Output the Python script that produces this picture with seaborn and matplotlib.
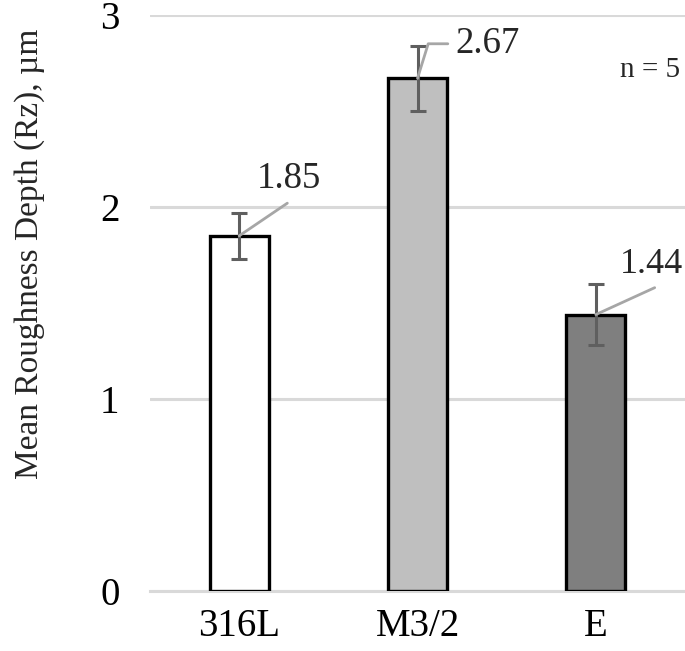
import matplotlib
matplotlib.use("Agg")
import matplotlib.pyplot as plt
import seaborn as sns
import pandas as pd

# data
alloys = ["316L", "M3/2", "E"]
rz_mean = [1.85, 2.67, 1.44]
rz_err = [0.12, 0.17, 0.16]
bar_colors = ["#ffffff", "#bfbfbf", "#7f7f7f"]

sns.set_theme(style="white")
plt.rcParams["font.family"] = ["Liberation Serif", "DejaVu Serif"]

df = pd.DataFrame({"alloy": alloys, "rz": rz_mean})

fig = plt.figure(figsize=(6.85, 6.51), dpi=100)
ax = fig.add_axes([0.219, 0.092, 0.781, 0.885])

sns.barplot(data=df, x="alloy", y="rz", hue="alloy", palette=bar_colors,
            legend=False, errorbar=None, width=0.33, edgecolor="black",
            linewidth=2.4, ax=ax, zorder=3)

ax.errorbar(range(len(alloys)), rz_mean, yerr=rz_err, fmt="none",
            ecolor="#5f5f5f", elinewidth=2.2, capsize=6, capthick=2.2, zorder=4)

# value labels with leader lines (callout offsets in data units)
LEAD = "#a6a6a6"
v = rz_mean
ax.plot([0, 0.27], [v[0], v[0] + 0.17], color=LEAD, lw=2, zorder=5)
ax.text(0.10, v[0] + 0.25, f"{v[0]:.2f}", fontsize=26.5, ha="left",
        va="baseline")

ax.plot([1, 1.06, 1.17], [v[1], v[1] + 0.18, v[1] + 0.18], color=LEAD, lw=2,
        zorder=5)
ax.text(1.21, v[1] + 0.18, f"{v[1]:.2f}", fontsize=26.5, ha="left",
        va="center")

ax.plot([2, 2.33], [v[2], v[2] + 0.14], color=LEAD, lw=2, zorder=5)
ax.text(2.135, v[2] + 0.216, f"{v[2]:.2f}", fontsize=26, ha="left",
        va="baseline")

ax.set_ylim(0, 3)
ax.set_xlim(-0.5, 2.5)
ax.set_yticks([0, 1, 2, 3])
ax.yaxis.grid(True, color="#d9d9d9", lw=2.2, zorder=0)
ax.set_axisbelow(True)
for s in ["top", "right", "left"]:
    ax.spines[s].set_visible(False)
ax.spines["bottom"].set_color("#d9d9d9")
ax.spines["bottom"].set_linewidth(2.2)

ax.tick_params(axis="both", length=0, labelsize=28, colors="black")
ax.tick_params(axis="y", pad=22)
ax.tick_params(axis="x", pad=12)
ax.set_xlabel("")
ax.set_ylabel("Mean Roughness Depth (Rz), µm", fontsize=24)
ax.yaxis.set_label_coords(-0.196, 0.585)

ax.text(0.935, 0.905, "n = 5", transform=ax.transAxes, fontsize=21,
        ha="center", va="center")

fig.savefig("out.png", dpi=100)
